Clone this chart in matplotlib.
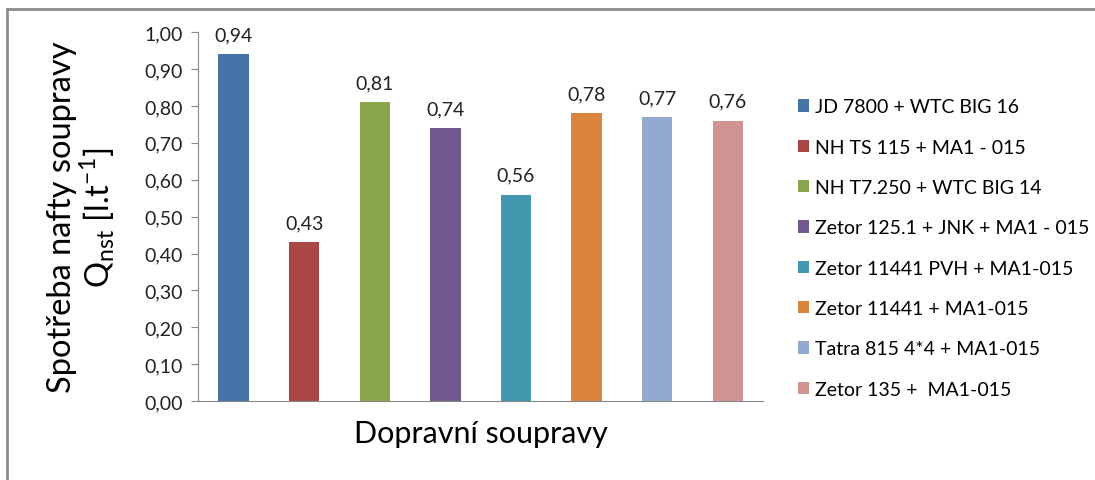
import matplotlib.pyplot as plt
from matplotlib.lines import Line2D

plt.rcParams['font.family'] = ['Lato', 'DejaVu Sans']
plt.rcParams['mathtext.fontset'] = 'custom'
plt.rcParams['mathtext.rm'] = 'Lato'

soupravy = ['JD 7800 + WTC BIG 16', 'NH TS 115 + MA1 - 015', 'NH T7.250 + WTC BIG 14',
            'Zetor 125.1 + JNK + MA1 - 015', 'Zetor 11441 PVH + MA1-015',
            'Zetor 11441 + MA1-015', 'Tatra 815 4*4 + MA1-015', 'Zetor 135 +  MA1-015']
spotreba = [0.94, 0.43, 0.81, 0.74, 0.56, 0.78, 0.77, 0.76]
barvy = ['#4572A7', '#AA4643', '#89A54E', '#71588F', '#4198AF', '#DB843D', '#93A9CF', '#D19392']
yticky = [0.0, 0.1, 0.2, 0.3, 0.4, 0.5, 0.6, 0.7, 0.8, 0.9, 1.0]

fig = plt.figure(figsize=(10.95, 4.81), dpi=100)
ax = fig.add_axes([0.181, 0.164, 0.516, 0.767])

# okraj grafu (jen horni a levy, zbytek je orizly)
fig.add_artist(Line2D([0.0065, 0.0065], [0, 0.98], transform=fig.transFigure, color='#8c8c8c', lw=2))
fig.add_artist(Line2D([0.0065, 1.0], [0.98, 0.98], transform=fig.transFigure, color='#8c8c8c', lw=2))

x = range(len(spotreba))
sloupce = ax.bar(x, spotreba, width=0.43, color=barvy, label=soupravy)
for xi, v in zip(x, spotreba):
    ax.annotate(f'{v:.2f}'.replace('.', ','), (xi, v), xytext=(0, 8), textcoords='offset points',
                ha='center', va='bottom', fontsize=14, color='#222222')

ax.set_xlim(-0.5, len(spotreba) - 0.5)
ax.set_ylim(0, 1.0)
ax.set_yticks(yticky)
ax.set_yticklabels([f'{t:.2f}'.replace('.', ',') for t in yticky], fontsize=14, color='#222222')
ax.set_xticks([])
ax.tick_params(axis='y', direction='out', length=5, color='#888888', pad=6)
for s in ['top', 'right']:
    ax.spines[s].set_visible(False)
ax.spines['left'].set_color('#888888')
ax.spines['bottom'].set_color('#888888')

ax.set_ylabel('Spotřeba nafty soupravy\n$\\mathregular{Q_{nst}}$ [l.t$^{\\mathregular{-1}}$]',
              fontsize=23.5, labelpad=20, linespacing=1.0)
ax.set_xlabel('Dopravní soupravy', fontsize=22, labelpad=13)

ax.legend(sloupce, soupravy, loc='center left', bbox_to_anchor=(1.03, 0.415), frameon=False,
          fontsize=14, handlelength=0.6, handleheight=0.6, handletextpad=0.3, labelspacing=1.2)

fig.savefig('out.png', dpi=100)
